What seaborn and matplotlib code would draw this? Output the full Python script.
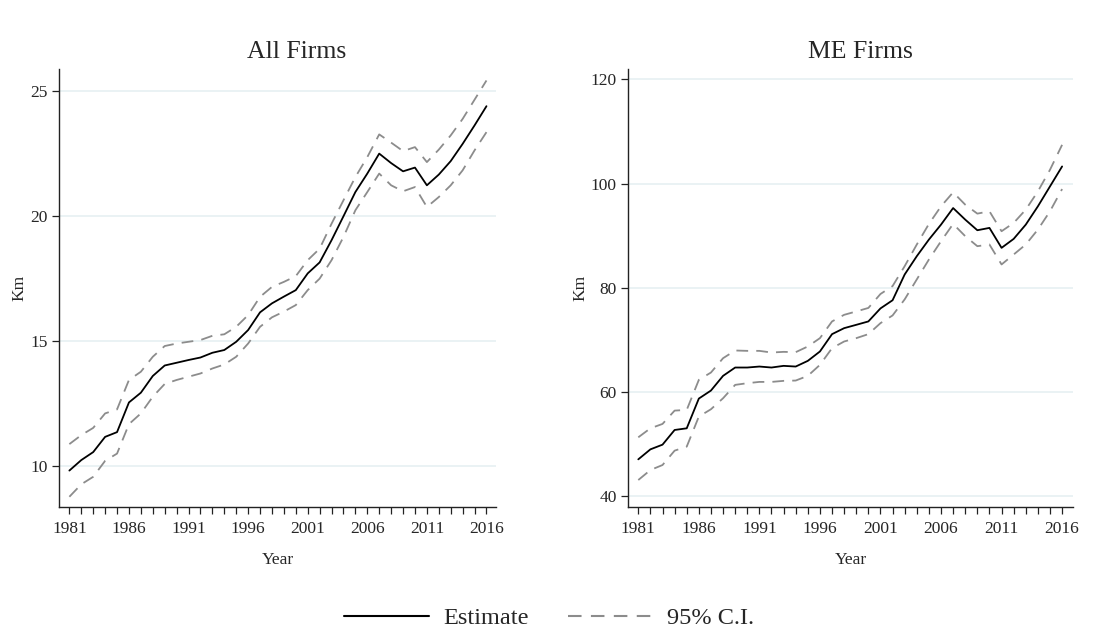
import numpy as np
import pandas as pd
import matplotlib
matplotlib.use("Agg")
import matplotlib.pyplot as plt
from matplotlib.lines import Line2D
import seaborn as sns

years = list(range(1981, 2017))

all_est = [9.81, 10.23, 10.55, 11.16, 11.35, 12.54, 12.93, 13.60, 14.02, 14.13,
           14.24, 14.34, 14.53, 14.64, 14.97, 15.44, 16.15, 16.51, 16.78, 17.04,
           17.71, 18.15, 19.04, 20.00, 20.97, 21.71, 22.51, 22.13, 21.80, 21.95,
           21.24, 21.67, 22.21, 22.90, 23.64, 24.41]
all_hi = [10.87, 11.23, 11.52, 12.10, 12.26, 13.44, 13.77, 14.37, 14.80, 14.90,
          14.97, 15.04, 15.21, 15.27, 15.57, 16.04, 16.77, 17.17, 17.37, 17.60,
          18.24, 18.70, 19.70, 20.64, 21.57, 22.37, 23.28, 22.95, 22.61, 22.77,
          22.17, 22.67, 23.24, 23.90, 24.67, 25.44]
all_lo = [8.76, 9.26, 9.56, 10.20, 10.49, 11.67, 12.10, 12.77, 13.28, 13.44,
          13.57, 13.70, 13.90, 14.06, 14.37, 14.90, 15.57, 15.95, 16.18, 16.44,
          17.04, 17.50, 18.24, 19.17, 20.24, 20.97, 21.71, 21.24, 21.00, 21.17,
          20.37, 20.77, 21.24, 21.84, 22.64, 23.37]

me_est = [47.05, 48.97, 49.87, 52.69, 53.01, 58.72, 60.26, 63.08, 64.68, 64.68,
          64.87, 64.68, 65.00, 64.87, 65.96, 67.76, 71.09, 72.24, 72.88, 73.53,
          76.03, 77.60, 82.55, 86.06, 89.25, 92.12, 95.30, 93.08, 91.04, 91.49,
          87.66, 89.38, 92.12, 95.63, 99.46, 103.29]
me_hi = [51.28, 53.01, 53.85, 56.41, 56.54, 62.31, 63.72, 66.47, 67.95, 67.88,
         67.88, 67.56, 67.69, 67.63, 68.72, 70.32, 73.53, 74.80, 75.45, 76.12,
         78.80, 80.32, 84.15, 88.30, 92.25, 95.63, 98.32, 95.95, 94.23, 94.68,
         90.85, 92.44, 95.00, 98.50, 102.65, 107.44]
me_lo = [43.08, 45.00, 45.96, 48.72, 49.49, 55.26, 56.67, 58.78, 61.35, 61.67,
         61.92, 61.92, 62.12, 62.18, 63.08, 65.19, 68.40, 69.68, 70.32, 71.09,
         73.20, 74.68, 77.77, 81.60, 85.42, 88.93, 92.25, 89.90, 87.98, 88.30,
         84.47, 86.38, 88.30, 91.17, 94.68, 98.95]

panel_titles = ["All Firms", "ME Firms"]
left_yticks = [10, 15, 20, 25]
right_yticks = [40, 60, 80, 100, 120]
xticks_labeled = list(range(1981, 2017, 5))
legend_labels = ["Estimate", "95% C.I."]

sns.set_theme(style="white")
plt.rcParams['font.family'] = ['Liberation Serif', 'DejaVu Serif']

fig = plt.figure(figsize=(10.99, 6.29), dpi=100)
W, H = 1099, 629

def add_ax(x0, x1, y0, y1):
    return fig.add_axes([x0 / W, 1 - y1 / H, (x1 - x0) / W, (y1 - y0) / H])

ax1 = add_ax(59, 496, 69, 507)
ax2 = add_ax(628, 1073, 69, 507)

grid_col = "#e6f0f2"
ci_col = "#8c8c8c"
tick_fs = 12.5

def draw(ax, est, hi, lo, yticks, ylim, xlim):
    df = pd.DataFrame({"Year": years, "est": est, "hi": hi, "lo": lo})
    for ytk in yticks:
        ax.axhline(ytk, color=grid_col, lw=1.2, zorder=0)
    sns.lineplot(data=df, x="Year", y="hi", ax=ax, color=ci_col, lw=1.3,
                 linestyle=(0, (6.5, 4.5)))
    sns.lineplot(data=df, x="Year", y="lo", ax=ax, color=ci_col, lw=1.3,
                 linestyle=(0, (6.5, 4.5)))
    sns.lineplot(data=df, x="Year", y="est", ax=ax, color="black", lw=1.3)
    ax.set_xlim(*xlim)
    ax.set_ylim(*ylim)
    ax.set_yticks(yticks)
    ax.set_yticklabels([str(v) for v in yticks], fontsize=tick_fs)
    ax.set_xticks(years)
    ax.set_xticklabels([str(y) if y in xticks_labeled else "" for y in years],
                       fontsize=tick_fs)
    ax.tick_params(axis="both", direction="out", length=5, width=0.9,
                   color="#222222", bottom=True, left=True, pad=3)
    ax.tick_params(axis="x", pad=5)
    for s in ["top", "right"]:
        ax.spines[s].set_visible(False)
    for s in ["left", "bottom"]:
        ax.spines[s].set_color("#222222")
        ax.spines[s].set_linewidth(1.0)
    ax.set_xlabel("Year", fontsize=tick_fs, labelpad=11)
    ax.set_ylabel("Km", fontsize=tick_fs, labelpad=2)
    ax.set_facecolor("white")

draw(ax1, all_est, all_hi, all_lo, left_yticks, (8.35, 25.9), (1980.13, 2016.8))
draw(ax2, me_est, me_hi, me_lo, right_yticks, (37.9, 122.0), (1980.15, 2016.9))

fig.text(297 / W, 1 - 52 / H, panel_titles[0], ha="center", va="center", fontsize=18.5)
fig.text(860 / W, 1 - 52 / H, panel_titles[1], ha="center", va="center", fontsize=18.5)

handles = [Line2D([0], [0], color="black", lw=1.5),
           Line2D([0], [0], color=ci_col, lw=1.5, linestyle=(0, (6.5, 4.5)))]
fig.legend(handles, legend_labels, loc="center", bbox_to_anchor=(549 / W, 1 - 618 / H),
           ncol=2, frameon=False, fontsize=17.5, handlelength=3.5, columnspacing=1.6,
           handletextpad=0.6)

fig.savefig("out.png", dpi=100, facecolor="white")
